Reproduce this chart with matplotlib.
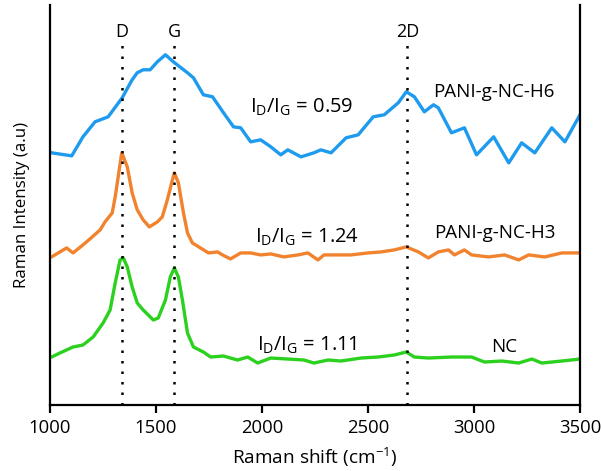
import matplotlib
matplotlib.use("Agg")
import matplotlib.pyplot as plt

# Raman spectra (stacked, arbitrary intensity units)
h6_shift = [1000, 1008, 1103, 1156, 1213, 1275, 1341, 1388, 1412, 1440, 1473, 1507, 1545,
            1582, 1649, 1677, 1724, 1767, 1819, 1866, 1900, 1947, 1994, 2042, 2089, 2122,
            2184, 2245, 2278, 2326, 2397, 2454, 2525, 2577, 2643, 2681, 2719, 2766, 2809,
            2832, 2894, 2955, 3012, 3093, 3164, 3225, 3287, 3367, 3429, 3500]
h6_int = [253, 252, 249, 268, 283, 288, 307, 325, 332, 335, 335, 343, 350,
          343, 332, 327, 310, 308, 292, 278, 277, 263, 265, 258, 250, 255,
          248, 252, 255, 252, 267, 270, 288, 290, 302, 313, 308, 293, 300,
          297, 272, 277, 250, 268, 242, 262, 252, 277, 263, 290]

h3_shift = [1000, 1008, 1079, 1109, 1156, 1189, 1237, 1260, 1294, 1308, 1339, 1365, 1388,
            1412, 1440, 1469, 1507, 1530, 1554, 1578, 1587, 1606, 1630, 1649, 1672, 1710,
            1748, 1791, 1814, 1852, 1900, 1947, 1994, 2042, 2103, 2170, 2217, 2264, 2293,
            2340, 2420, 2501, 2562, 2624, 2681, 2738, 2785, 2832, 2880, 2908, 2955, 2989,
            3069, 3145, 3211, 3258, 3334, 3415, 3500]
h3_int = [148, 148, 157, 152, 160, 166, 175, 183, 192, 208, 252, 238, 212,
          195, 185, 178, 183, 188, 205, 225, 232, 222, 192, 172, 162, 157,
          152, 153, 150, 146, 152, 152, 150, 151, 148, 150, 152, 145, 150,
          150, 150, 152, 153, 155, 158, 153, 147, 153, 155, 150, 155, 150,
          148, 150, 145, 150, 148, 152, 152]

nc_shift = [1000, 1008, 1047, 1109, 1156, 1204, 1251, 1284, 1308, 1331, 1346, 1365, 1388,
            1412, 1440, 1488, 1511, 1545, 1568, 1587, 1606, 1625, 1649, 1677, 1724, 1758,
            1819, 1885, 1933, 1980, 2042, 2122, 2198, 2245, 2312, 2373, 2468, 2548, 2624,
            2681, 2719, 2785, 2894, 2989, 3050, 3131, 3211, 3273, 3320, 3415, 3500]
nc_int = [48, 48, 52, 58, 60, 68, 82, 95, 122, 145, 147, 138, 118,
          102, 95, 85, 87, 105, 128, 137, 128, 105, 72, 58, 53, 48,
          49, 45, 48, 42, 47, 46, 45, 42, 45, 44, 47, 48, 50,
          53, 48, 47, 48, 48, 43, 44, 42, 46, 42, 44, 46]

band_positions = [1341, 1587, 2686]
band_names = ["D", "G", "2D"]
sample_names = ["PANI-g-NC-H6", "PANI-g-NC-H3", "NC"]
ratios = [0.59, 1.24, 1.11]

x_ticks = [1000, 1500, 2000, 2500, 3000, 3500]

colors = ["#1E9BEE", "#F2832E", "#2BD11E"]

plt.rcParams["font.family"] = ["Open Sans", "DejaVu Sans"]

fig = plt.figure(figsize=(6.01, 4.71), dpi=100)
ax = fig.add_axes([0.083, 0.14, 0.882, 0.85])

ax.plot(h6_shift, h6_int, color=colors[0], lw=2.4, solid_joinstyle="round")
ax.plot(h3_shift, h3_int, color=colors[1], lw=2.4, solid_joinstyle="round")
ax.plot(nc_shift, nc_int, color=colors[2], lw=2.4, solid_joinstyle="round")

for pos, name in zip(band_positions, band_names):
    ax.plot([pos, pos], [0, 367], color="black", lw=1.8, linestyle=(0, (1, 3.2)))
    ax.text(pos, 373, name, ha="center", va="center", fontsize=13)

# sample labels and intensity ratios
label_pos = [(3093, 313), (3098, 172), (3142, 58)]
ratio_pos = [(2186, 297), (2212, 168), (2212, 60)]
for name, (lx, ly), r, (rx, ry) in zip(sample_names, label_pos, ratios, ratio_pos):
    ax.text(lx, ly, name, ha="center", va="center", fontsize=13.5)
    ax.text(rx, ry, r"I$_\mathregular{D}$/I$_\mathregular{G}$" + f" = {r:.2f}",
            ha="center", va="center", fontsize=14.5)

ax.set_xlim(1000, 3500)
ax.set_ylim(0, 400)
ax.set_xticks(x_ticks)
ax.set_xticklabels([str(t) for t in x_ticks], fontsize=13.3)
ax.set_yticks([])
ax.spines["top"].set_visible(False)
for s in ["left", "right", "bottom"]:
    ax.spines[s].set_linewidth(1.6)
ax.tick_params(axis="x", direction="out", length=6, width=1.6, pad=4)

ax.set_xlabel(r"Raman shift (cm$^{\mathregular{-1}}$)", fontsize=13.7, labelpad=6)
ax.set_ylabel("Raman Intensity (a.u)", fontsize=12.2, labelpad=14)

fig.savefig("out.png", dpi=100)
